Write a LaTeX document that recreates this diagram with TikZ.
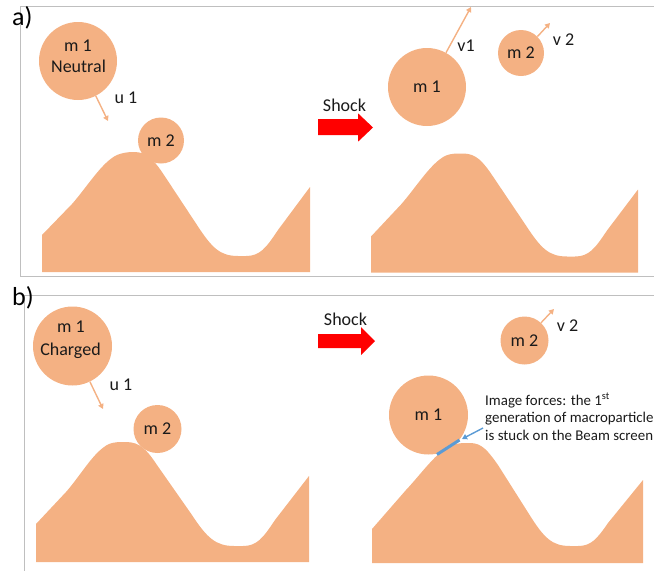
\documentclass[tikz,border=0pt]{standalone}
\usepackage{fontspec}
\setmainfont{Carlito}
\usetikzlibrary{arrows.meta}
\definecolor{peach}{HTML}{F4B183}
\definecolor{framegray}{HTML}{BFBFBF}
\definecolor{beam}{HTML}{5B9BD5}
\definecolor{ink}{HTML}{1A1A1A}
\begin{document}
\begin{tikzpicture}[x=1pt,y=-1pt,
  ground/.style={fill=peach},
  ball/.style={circle,fill=peach,inner sep=0pt,minimum size=#1,text=ink,
    font=\fontsize{18}{21}\selectfont},
  lbl/.style={font=\fontsize{18}{21}\selectfont,anchor=base,inner sep=0pt,text=ink},
  note/.style={font=\fontsize{14.9}{18}\selectfont,anchor=base west,inner sep=0pt,text=ink},
  tag/.style={font=\fontsize{26}{30}\selectfont,anchor=base west,inner sep=0pt,text=black},
  vel/.style={draw=peach,line width=1.4pt,-{Triangle[width=5.5pt,length=5pt]}},
  panel/.style={draw=framegray,line width=0.8pt},
  shock/.style={fill=red}]
\useasboundingbox (0,0) rectangle (654,571);
\clip (0,0) rectangle (654,571);

% panel frames
\draw[panel] (654,6) -- (20.7,6) -- (20.7,276) -- (654,276);
\draw[panel] (654,295.5) -- (24,295.5) -- (24,571);

% panel tags
\node[tag] (taga) at (12,25) {a)};
\node[tag] (tagb) at (12,305) {b)};

% ---------------- hills ----------------
\path[ground,shift={(42,272)}]
  (0,0) -- (0,-37) -- (30,-68) .. controls (45,-85) and (60,-110) .. (75,-117)
  .. controls (80,-119) and (85,-120) .. (92,-120)
  .. controls (105,-120) and (112,-112) .. (122,-97)
  -- (155,-47) .. controls (170,-24) and (178,-16) .. (196,-16)
  -- (204,-16) .. controls (218,-16) and (224,-24) .. (236,-42)
  -- (268,-85) -- (268,0) -- cycle;
\path[ground,shift={(371,272.5)}]
  (0,0) -- (0,-36) -- (30,-68) .. controls (45,-85) and (60,-110) .. (75,-117)
  .. controls (80,-119) and (85,-119) .. (92,-119)
  .. controls (105,-119) and (112,-111) .. (122,-96)
  -- (155,-47) .. controls (170,-24) and (178,-16) .. (196,-16)
  -- (204,-16) .. controls (218,-16) and (224,-24) .. (236,-42)
  -- (267,-83) -- (267,0) -- cycle;
\path[ground,shift={(36,562)}]
  (0,0) -- (0,-38) -- (30,-70) .. controls (45,-87) and (58,-111) .. (73,-118)
  .. controls (78,-120) and (83,-120) .. (90,-120)
  .. controls (104,-120) and (111,-112) .. (121,-97)
  -- (156,-47) .. controls (171,-24) and (180,-16) .. (198,-16)
  -- (207,-16) .. controls (221,-16) and (227,-24) .. (239,-42)
  -- (273,-86) -- (273,0) -- cycle;
\path[ground,shift={(372,563)}]
  (0,0) -- (0,-34) -- (34,-73) .. controls (50,-90) and (65,-112) .. (80,-118)
  .. controls (86,-120) and (91,-120) .. (98,-120)
  .. controls (110,-120) and (116,-112) .. (126,-98)
  -- (157,-49) .. controls (172,-25) and (180,-17) .. (198,-17)
  -- (206,-17) .. controls (219,-17) and (225,-24) .. (236,-40)
  -- (271,-83) -- (271,0) -- cycle;

% ---------------- panel a, before ----------------
\node[ball=78pt] (m1a) at (78,61) {};
\node[lbl] (m1aname) at (78,51.7) {m 1};
\node[lbl] (m1astate) at (78.5,72.7) {Neutral};
\node[ball=46pt] (m2a) at (161,140.5) {m 2};
\coordinate (u1aend) at (108,121);
\draw[vel] (m1a.-63) -- (u1aend);
\node[lbl] (u1a) at (126,103.3) {u 1};

% shock arrow a
\node[lbl] (shocka) at (344.5,111.7) {Shock};
\fill[shock] (318,119) -- (358,119) -- (358,113.3) -- (373,127.5)
  -- (358,141.7) -- (358,135) -- (318,135) -- cycle;

% ---------------- panel a, after ----------------
\node[ball=78pt] (m1b) at (427,87) {m 1};
\node[ball=46pt] (m2b) at (521,53) {m 2};
\coordinate (v1end) at (471,7);
\coordinate (v2aend) at (550,23);
\draw[vel] (m1b.61) -- (v1end);
\draw[vel] (m2b.45) -- (v2aend);
\node[lbl] (v1) at (466,51.7) {v1};
\node[lbl] (v2a) at (563.5,45) {v 2};

% ---------------- panel b, before ----------------
\node[ball=79pt] (m1c) at (72.5,346) {};
\node[lbl] (m1cname) at (71,332.7) {m 1};
\node[lbl] (m1cstate) at (70.5,355) {Charged};
\node[ball=48pt] (m2c) at (157.5,429) {m 2};
\coordinate (u1cend) at (103,409);
\draw[vel] (m1c.-64) -- (u1cend);
\node[lbl] (u1c) at (121,390) {u 1};

% shock arrow b
\node[lbl] (shockb) at (345.5,325.7) {Shock};
\fill[shock] (318,334) -- (361,334) -- (361,327) -- (375,341)
  -- (361,355) -- (361,348) -- (318,348) -- cycle;

% ---------------- panel b, after ----------------
\node[ball=48pt] (m2d) at (524.5,340.5) {m 2};
\coordinate (v2bend) at (554,309);
\draw[vel] (m2d.47) -- (v2bend);
\node[lbl] (v2b) at (567.5,331.7) {v 2};
\node[ball=79pt] (m1d) at (428.5,415) {m 1};

% contact patch held by image forces
\coordinate (contactA) at (437,454.5);
\coordinate (contactB) at (459.5,440);
\draw[beam,line width=3pt] (contactA) -- (contactB);
\node[note] (noteA) at (485,405) {Image forces: the 1\textsuperscript{st}};
\node[note] (noteB) at (485,422.7) {generation of macroparticle};
\node[note] (noteC) at (485,440.5) {is stuck on the Beam screen};
\coordinate (pointerStart) at (483,428);
\coordinate (pointerEnd) at (462,439);
\draw[beam,line width=1.4pt,-{Triangle[width=5.5pt,length=5pt]}] (pointerStart) -- (pointerEnd);
\end{tikzpicture}
\end{document}
